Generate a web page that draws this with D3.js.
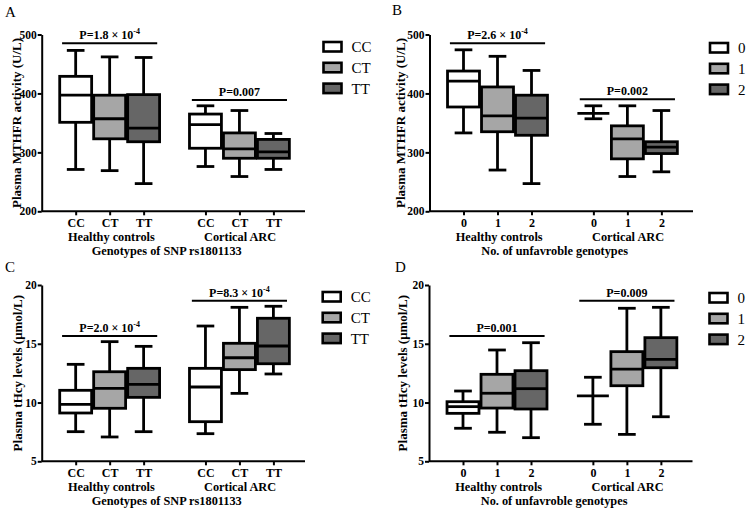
<!DOCTYPE html>
<html>
<head>
<meta charset="utf-8">
<script src="https://cdn.jsdelivr.net/npm/d3@7/dist/d3.min.js"></script>
<style>
  html, body { margin: 0; padding: 0; background: #fff; }
  svg { display: block; }
  text { font-family: "Liberation Serif", "Times New Roman", serif; fill: #000; }
</style>
</head>
<body>
<svg id="chart" width="750" height="512"></svg>
<script>
// ---------------- DATA ----------------
const groupLabels = ["Healthy controls", "Cortical ARC"];
const genotypeLabels = ["CC", "CT", "TT"];
const countLabels = ["0", "1", "2"];
const yTicksMTHFR = [200, 300, 400, 500];
const yTicksHcy = [5, 10, 15, 20];

// five-number summaries: [min, Q1, median, Q3, max]; 3 healthy then 3 cortical ARC
const mthfrBySNP = [
  [271, 351, 397, 429, 473],
  [269, 323, 357, 397, 462],
  [247, 318, 341, 398, 461],
  [276, 307, 347, 365, 379],
  [259, 290, 306, 333, 371],
  [271, 290, 301, 322, 332]
];
const mthfrByCount = [
  [333, 377, 421, 438, 474],
  [270, 335, 362, 411, 463],
  [247, 329, 358, 397, 439],
  [357, 366, 366, 366, 379],
  [259, 289, 323, 345, 379],
  [267, 298, 309, 318, 371]
];
const hcyBySNP = [
  [7.52, 9.11, 9.85, 11.04, 13.25],
  [7.07, 9.51, 11.21, 12.62, 15.18],
  [7.52, 10.44, 11.55, 12.91, 14.78],
  [7.35, 8.37, 11.32, 12.91, 16.51],
  [10.78, 12.8, 13.81, 15.04, 18.1],
  [12.43, 13.3, 14.81, 17.17, 18.19]
];
const hcyByCount = [
  [7.81, 9.08, 9.65, 10.07, 10.98],
  [7.47, 9.53, 10.79, 12.4, 14.47],
  [7.01, 9.45, 11.18, 12.71, 15.09],
  [8.15, 10.56, 10.56, 10.56, 12.15],
  [7.29, 11.43, 12.85, 14.33, 18.02],
  [8.79, 12.96, 13.68, 15.52, 18.1]
];

// P-value labels (healthy, cortical) and the level of their bars
const pLabelsA = ["P=1.8 × 10^-4", "P=0.007"];
const pLabelsB = ["P=2.6 × 10^-4", "P=0.002"];
const pLabelsC = ["P=2.0 × 10^-4", "P=8.3 × 10^-4"];
const pLabelsD = ["P=0.001", "P=0.009"];
const pLevelsA = [485, 389];
const pLevelsB = [485, 390];
const pLevelsC = [15.66, 18.66];
const pLevelsD = [15.66, 18.66];

const fills = ["#ffffff", "#a6a6a6", "#666666"];

// ---------------- DRAW ----------------
const svg = d3.select("#chart");

function slot(i) { return (i % 3) + (i >= 3 ? 3.82 : 0); }

function drawPanel(cfg) {
  const g = svg.append("g");
  const x = d3.scaleLinear().domain([-1, 6.75]).range([cfg.x0, cfg.x1]);
  const y = d3.scaleLinear().domain(cfg.domain).range([cfg.yBot, cfg.yTop]);
  const halfW = x(0.47) - x(0);
  const capW = x(0.26) - x(0);
  const sw = 2.8;

  // panel letter
  g.append("text").attr("x", cfg.letterX).attr("y", cfg.letterY)
    .attr("font-size", 15).text(cfg.letter);

  // y axis
  const ya = g.append("g").attr("transform", `translate(${cfg.x0},0)`)
    .call(d3.axisLeft(y).tickValues(cfg.yTicks).tickSize(4).tickSizeOuter(0).tickPadding(1));
  ya.selectAll("path.domain").attr("stroke-width", 2);
  ya.selectAll(".tick line").attr("stroke-width", 2);
  ya.selectAll(".tick text").attr("font-size", 11.5).attr("font-weight", "bold")
    .style("font-family", '"Liberation Serif", serif');

  // x axis
  const pos = d3.range(6).map(slot);
  const xa = g.append("g").attr("transform", `translate(0,${cfg.yBot})`)
    .call(d3.axisBottom(x).tickValues(pos).tickFormat((d, i) => cfg.cats[i % 3])
      .tickSize(4).tickSizeOuter(0).tickPadding(3));
  xa.selectAll("path.domain").attr("stroke-width", 2).attr("d", `M${cfg.x0},0H${cfg.x1}`);
  xa.selectAll(".tick line").attr("stroke-width", 2);
  xa.selectAll(".tick text").attr("font-size", 12).attr("font-weight", "bold")
    .style("font-family", '"Liberation Serif", serif');

  // group labels
  groupLabels.forEach((lab, k) => {
    g.append("text").attr("x", x(k === 0 ? 1.05 : 4.84)).attr("y", cfg.yBot + 29.5)
      .attr("text-anchor", "middle").attr("font-size", 12.3).attr("font-weight", "bold").text(lab);
  });
  g.append("text").attr("x", x(2.68)).attr("y", cfg.yBot + 43.8)
    .attr("text-anchor", "middle").attr("font-size", 12.3).attr("font-weight", "bold").text(cfg.xTitle);

  // y title
  g.append("text")
    .attr("transform", `translate(${cfg.yTitleX},${(cfg.yTop + cfg.yBot) / 2}) rotate(-90)`)
    .attr("text-anchor", "middle").attr("dy", "0.35em")
    .attr("font-size", 13).attr("font-weight", "bold").text(cfg.yTitle);

  // boxes
  cfg.data.forEach((d, i) => {
    const cx = x(slot(i));
    const [mn, q1, md, q3, mx] = d;
    const bg = g.append("g");
    bg.append("line").attr("x1", cx).attr("x2", cx).attr("y1", y(mx)).attr("y2", y(q3))
      .attr("stroke", "#000").attr("stroke-width", sw);
    bg.append("line").attr("x1", cx).attr("x2", cx).attr("y1", y(q1)).attr("y2", y(mn))
      .attr("stroke", "#000").attr("stroke-width", sw);
    [mn, mx].forEach(v => {
      bg.append("line").attr("x1", cx - capW).attr("x2", cx + capW).attr("y1", y(v)).attr("y2", y(v))
        .attr("stroke", "#000").attr("stroke-width", sw);
    });
    if (q3 > q1) {
      bg.append("rect").attr("x", cx - halfW).attr("y", y(q3)).attr("width", 2 * halfW)
        .attr("height", y(q1) - y(q3)).attr("fill", fills[i % 3])
        .attr("stroke", "#000").attr("stroke-width", sw);
    }
    bg.append("line").attr("x1", cx - halfW).attr("x2", cx + halfW).attr("y1", y(md)).attr("y2", y(md))
      .attr("stroke", "#000").attr("stroke-width", sw);
  });

  // P value bars
  [1, 4.82].forEach((c, k) => {
    const py = y(cfg.pLevels[k]);
    g.append("line").attr("x1", x(c - 1.4)).attr("x2", x(c + 1.4)).attr("y1", py).attr("y2", py)
      .attr("stroke", "#000").attr("stroke-width", 2);
    const parts = cfg.pLabels[k].split("^");
    const t = g.append("text").attr("x", x(c)).attr("y", py - 4).attr("text-anchor", "middle")
      .attr("font-size", 12).attr("font-weight", "bold");
    t.append("tspan").text(parts[0]);
    if (parts[1]) {
      t.append("tspan").attr("font-size", 8).attr("dy", -5).text(parts[1]);
    }
  });

  // legend
  cfg.cats.forEach((c, k) => {
    const ly = cfg.legendY + k * 20.8;
    g.append("rect").attr("x", cfg.legendX + 1).attr("y", ly + 1).attr("width", 18).attr("height", 9.5)
      .attr("fill", fills[k]).attr("stroke", "#000").attr("stroke-width", 2.6);
    g.append("text").attr("x", cfg.legendX + 29).attr("y", ly + 5.8).attr("dy", "0.35em")
      .attr("font-size", 15).text(c);
  });
}

drawPanel({
  letter: "A", letterX: 5, letterY: 17,
  x0: 41.7, x1: 305, yTop: 34.5, yBot: 211.3, domain: [200, 500], yTicks: yTicksMTHFR,
  data: mthfrBySNP, cats: genotypeLabels, pLabels: pLabelsA, pLevels: pLevelsA,
  xTitle: "Genotypes of SNP rs1801133", yTitle: "Plasma MTHFR activity (U/L)", yTitleX: 16,
  legendX: 322.5, legendY: 41
});
drawPanel({
  letter: "B", letterX: 392, letterY: 15,
  x0: 429.5, x1: 693, yTop: 34.5, yBot: 211.3, domain: [200, 500], yTicks: yTicksMTHFR,
  data: mthfrByCount, cats: countLabels, pLabels: pLabelsB, pLevels: pLevelsB,
  xTitle: "No. of unfavroble genotypes", yTitle: "Plasma MTHFR activity (U/L)", yTitleX: 400,
  legendX: 709, legendY: 42
});
drawPanel({
  letter: "C", letterX: 5, letterY: 272,
  x0: 41.7, x1: 305, yTop: 285, yBot: 461.3, domain: [5, 20], yTicks: yTicksHcy,
  data: hcyBySNP, cats: genotypeLabels, pLabels: pLabelsC, pLevels: pLevelsC,
  xTitle: "Genotypes of SNP rs1801133", yTitle: "Plasma tHcy levels (μmol/L)", yTitleX: 17.5,
  legendX: 321.7, legendY: 291
});
drawPanel({
  letter: "D", letterX: 395, letterY: 272,
  x0: 429, x1: 692.5, yTop: 285, yBot: 461.3, domain: [5, 20], yTicks: yTicksHcy,
  data: hcyByCount, cats: countLabels, pLabels: pLabelsD, pLevels: pLevelsD,
  xTitle: "No. of unfavroble genotypes", yTitle: "Plasma tHcy levels (μmol/L)", yTitleX: 402,
  legendX: 708.5, legendY: 292
});
</script>
</body>
</html>
